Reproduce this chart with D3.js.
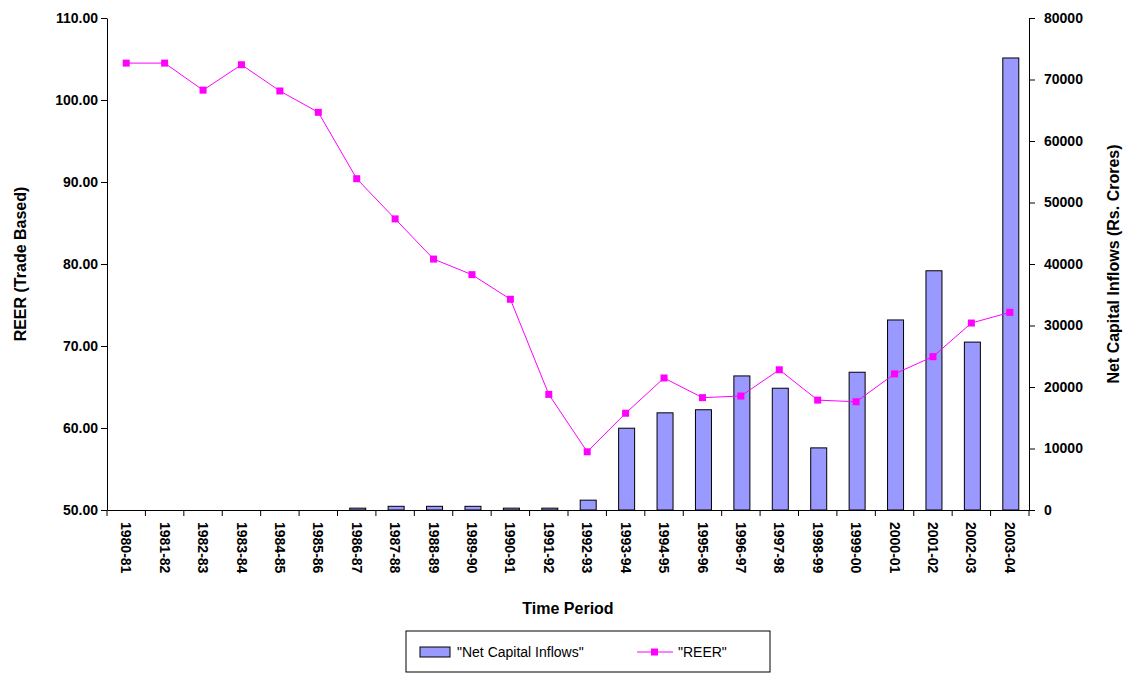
<!DOCTYPE html><html><head><script src="https://cdn.jsdelivr.net/npm/d3@7"></script>
<style>body{margin:0;background:#fff}text{font-family:Arial,"Liberation Sans",sans-serif}</style></head><body>
<svg id="c" width="1129" height="677"></svg>
<script>
const categories=["1980-81","1981-82","1982-83","1983-84","1984-85","1985-86","1986-87","1987-88","1988-89","1989-90","1990-91","1991-92","1992-93","1993-94","1994-95","1995-96","1996-97","1997-98","1998-99","1999-00","2000-01","2001-02","2002-03","2003-04"];
const reer=[104.5,104.5,101.2,104.3,101.1,98.5,90.4,85.5,80.6,78.7,75.7,64.1,57.1,61.8,66.1,63.7,63.9,67.1,63.4,63.2,66.6,68.7,72.8,74.1];
const inflows=[0,0,0,0,0,0,300,600,600,600,300,300,1600,13300,15800,16300,21800,19800,10100,22400,30900,38900,27300,73500];
const leftTicks=[50,60,70,80,90,100,110];
const rightTicks=[0,10000,20000,30000,40000,50000,60000,70000,80000];
const svg=d3.select("#c");
const L=107,R=1029,T=18,B=510;
const x=d3.scaleBand().domain(categories).range([L,R]);
const yl=d3.scaleLinear().domain([50,110]).range([B,T]);
const yr=d3.scaleLinear().domain([0,80000]).range([B,T]);
svg.append("g").attr("transform",`translate(${L},0)`).call(d3.axisLeft(yl).tickValues(leftTicks).tickFormat(d3.format(".2f")).tickSizeOuter(0))
 .call(g=>g.selectAll("text").attr("font-size",14).attr("font-weight","bold"));
svg.append("g").attr("transform",`translate(${R},0)`).call(d3.axisRight(yr).tickValues(rightTicks).tickFormat(d=>d).tickSizeOuter(0))
 .call(g=>g.selectAll("text").attr("font-size",14).attr("font-weight","bold").attr("dx",6));
const xa=svg.append("g").attr("transform",`translate(0,${B})`).call(d3.axisBottom(x).tickSizeOuter(0));
xa.selectAll(".tick line").attr("transform",`translate(${-x.bandwidth()/2},0)`);
xa.append("line").attr("x1",R).attr("x2",R).attr("y1",0).attr("y2",6).attr("stroke","#000");
xa.selectAll("text").attr("font-size",14).attr("font-weight","bold").attr("transform","rotate(90)")
 .attr("text-anchor","start").attr("x",12).attr("y",0).attr("dy","0.35em");
svg.selectAll(".domain").attr("stroke","#000");
const bw=16;
svg.append("g").selectAll("rect").data(inflows).join("rect")
 .attr("x",(d,i)=>x(categories[i])+x.bandwidth()/2-bw/2+1).attr("width",bw)
 .attr("y",d=>yr(d)).attr("height",d=>B-yr(d)).attr("fill",d=>d>0?"#9999ff":"none").attr("stroke",d=>d>0?"#000":"none").attr("stroke-width",1);
const line=d3.line().x((d,i)=>x(categories[i])+x.bandwidth()/2).y(d=>yl(d));
svg.append("path").datum(reer).attr("d",line).attr("fill","none").attr("stroke","#ff00ff").attr("stroke-width",1);
svg.append("g").selectAll("rect").data(reer).join("rect")
 .attr("x",(d,i)=>x(categories[i])+x.bandwidth()/2-3.5).attr("y",d=>yl(d)-3.5).attr("width",7).attr("height",7).attr("fill","#ff00ff");
svg.append("text").attr("x",568).attr("y",614).attr("text-anchor","middle").attr("font-size",16).attr("font-weight","bold").text("Time Period");
svg.append("text").attr("transform","translate(26,264) rotate(-90)").attr("text-anchor","middle").attr("font-size",16).attr("font-weight","bold").text("REER (Trade Based)");
svg.append("text").attr("transform","translate(1119,264) rotate(-90)").attr("text-anchor","middle").attr("font-size",16).attr("font-weight","bold").text("Net Capital Inflows (Rs. Crores)");
const lg=svg.append("g");
lg.append("rect").attr("x",406).attr("y",631).attr("width",364).attr("height",41).attr("fill","#fff").attr("stroke","#000");
lg.append("rect").attr("x",420).attr("y",647).attr("width",30).attr("height",10).attr("fill","#9999ff").attr("stroke","#000");
lg.append("text").attr("x",457).attr("y",657).attr("font-size",14).text("\"Net Capital Inflows\"");
lg.append("line").attr("x1",637).attr("x2",673).attr("y1",652).attr("y2",652).attr("stroke","#ff00ff");
lg.append("rect").attr("x",651).attr("y",648.5).attr("width",7).attr("height",7).attr("fill","#ff00ff");
lg.append("text").attr("x",678).attr("y",657).attr("font-size",14).text("\"REER\"");
</script></body></html>
